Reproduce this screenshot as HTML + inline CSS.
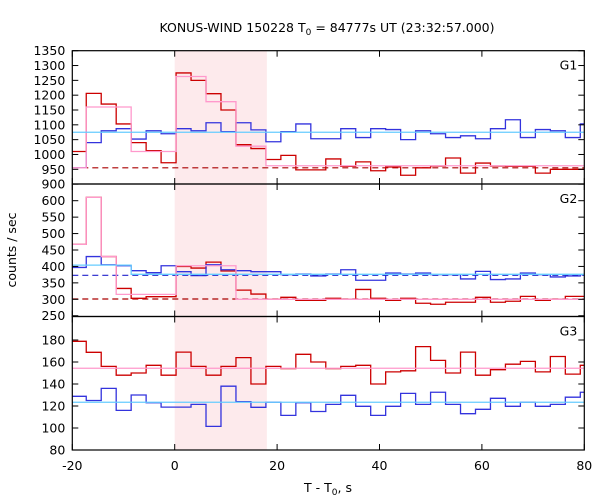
<!DOCTYPE html>
<html><head><meta charset="utf-8"><style>
body{margin:0;background:#fff;}
svg{display:block;font-family:"DejaVu Sans","Liberation Sans",sans-serif;}
</style></head><body>
<svg id="c" width="600" height="500" viewBox="0 0 600 500" xmlns="http://www.w3.org/2000/svg">
<text x="327" y="32" font-size="12.5" text-anchor="middle">KONUS-WIND 150228 T<tspan font-size="9" dy="3">0</tspan><tspan dy="-3"> = 84777s UT (23:32:57.000)</tspan></text>
<text x="328" y="492" font-size="12.5" text-anchor="middle">T - T<tspan font-size="9" dy="3">0</tspan><tspan dy="-3">, s</tspan></text>
<text transform="translate(16,250) rotate(-90)" font-size="12.5" text-anchor="middle">counts / sec</text>
<g id="g"></g>
</svg>
<script>
const binStart = -20.2;
const binWidth = 2.924;
const xTicks = [-20, 0, 20, 40, 60, 80];
const shadeRange = [0, 18];
const g1Red = [1010,1206,1170,1103,1040,1013,972,1275,1250,1205,1150,1033,1020,983,997,948,948,985,960,975,945,958,930,955,961,988,937,971,961,960,960,937,950,950,950];
const g1Blue = [955,1040,1080,1087,1052,1080,1070,1087,1080,1107,1077,1107,1083,1043,1077,1103,1053,1053,1087,1057,1087,1084,1050,1080,1070,1057,1063,1053,1087,1117,1057,1084,1080,1057,1103];
const g1Pink = [955,1160,1160,1160,1010,1010,1010,1263,1263,1178,1178,1028,1028,962,962,962,962,962,962,962,962,962,962,962,962,962,962,962,962,962,962,962,962,962,962];
const g1Cyan = 1075, g1RedBg = 955;
const g2Red = [467,610,430,333,303,308,308,400,395,413,386,328,316,300,306,297,297,303,300,330,303,297,303,288,285,291,291,306,291,294,309,297,300,309,309];
const g2Blue = [397,430,405,402,387,381,402,384,372,405,390,387,384,384,375,377,371,377,390,358,358,380,377,380,375,375,362,385,360,362,380,375,368,371,375];
const g2Pink = [467,610,430,315,315,315,315,402,402,402,402,300,300,300,300,300,300,300,300,300,300,300,300,300,300,300,300,300,300,300,300,300,300,300,300];
const g2Cyan = [404,404,404,404,376,376,376,376,376,376,376,376,376,376,376,376,376,376,376,376,376,376,376,376,376,376,376,376,376,376,376,376,376,376,376];
const g2BlueBg = 373, g2RedBg = 301;
const g3Red = [178.8,168.8,156,148,150,157,148,169,156,148,156,164,140,156,154,167,160,154,156,157,140,151,152,174,161.5,150,169,148,153,158,160.6,151,165,149,157];
const g3Blue = [128.8,125,136,116,130,123,119,119,121.5,101.5,138,124,118.8,123.4,111.5,123,115,121.5,129.7,119.7,111.5,119.7,131.5,121.5,132.5,121.5,113,117,127,119.7,123.4,119.7,121.5,128,132.5];
const g3Pink = 154.3, g3Cyan = 123.4;
const g1Ticks = [900,950,1000,1050,1100,1150,1200,1250,1300,1350];
const g2Ticks = [250,300,350,400,450,500,550,600];
const g3Ticks = [80,100,120,140,160,180];

const NS = "http://www.w3.org/2000/svg";
const root = document.getElementById('g');
const X0 = 72.3, X1 = 584.3;
const xs = t => X0 + (t + 20) / 100 * (X1 - X0);
function mk(tag, attrs, parent) {
  const e = document.createElementNS(NS, tag);
  for (const k in attrs) e.setAttribute(k, attrs[k]);
  (parent || root).appendChild(e);
  return e;
}
const panels = [
  {name:'g1', top:50.7, bot:184, v0:1350, p0:50.7, v1:950, p1:169.3, ticks:g1Ticks, label:'G1'},
  {name:'g2', top:184, bot:316.5, v0:600, p0:200.7, v1:300, p1:299.3, ticks:g2Ticks, label:'G2'},
  {name:'g3', top:316.5, bot:450, v0:180, p0:340, v1:80, p1:450, ticks:g3Ticks, label:'G3'}
];
panels.forEach(p => { p.y = v => p.p0 + (v - p.v0) * (p.p1 - p.p0) / (p.v1 - p.v0); });

let sh = mk('rect', {x:xs(shadeRange[0]), y:50.7, width:xs(shadeRange[1])-xs(shadeRange[0]), height:450-50.7, fill:'#fdeaec'});



function stepPath(p, vals, color, name, w) {
  let d = '';
  vals.forEach((v, i) => {
    const xa = Math.max(X0, xs(binStart + i * binWidth));
    const xb = Math.min(X1, xs(binStart + (i + 1) * binWidth));
    const y = p.y(v).toFixed(2);
    d += (i === 0 ? 'M' : 'L') + xa.toFixed(2) + ',' + y + 'L' + xb.toFixed(2) + ',' + y;
  });
  const e = mk('path', {d:d, fill:'none', stroke:color, 'stroke-width':w || 1.3});
  
  
}
function hline(p, v, color, name, dash) {
  const e = mk('line', {x1:X0, x2:X1, y1:p.y(v), y2:p.y(v), stroke:color, 'stroke-width':1.2});
  if (dash) e.setAttribute('stroke-dasharray', '6,4');
  
  
}
const [P1, P2, P3] = panels;
hline(P1, g1RedBg, '#aa0000', 'g1-background-dashed', true);
stepPath(P1, g1Blue, '#3333dd', 'g1-blue-series');
stepPath(P1, g1Red, '#cc0000', 'g1-red-series');
stepPath(P1, g1Pink, '#ff99cc', 'g1-pink-fit');
hline(P1, g1Cyan, '#66ccff', 'g1-cyan-fit');

hline(P2, g2RedBg, '#aa0000', 'g2-red-background-dashed', true);
stepPath(P2, g2Red, '#cc0000', 'g2-red-series');
stepPath(P2, g2Blue, '#3333dd', 'g2-blue-series');
hline(P2, g2BlueBg, '#2222cc', 'g2-blue-background-dashed', true);
stepPath(P2, g2Pink, '#ff99cc', 'g2-pink-fit');
stepPath(P2, g2Cyan, '#66ccff', 'g2-cyan-fit');

stepPath(P3, g3Red, '#cc0000', 'g3-red-series');
stepPath(P3, g3Blue, '#3333dd', 'g3-blue-series');
hline(P3, g3Pink, '#ff99cc', 'g3-pink-fit');
hline(P3, g3Cyan, '#66ccff', 'g3-cyan-fit');

panels.forEach(p => {
  const fr = mk('rect', {x:X0, y:p.top, width:X1-X0, height:p.bot-p.top, fill:'none', stroke:'#000', 'stroke-width':1.2});
  
  
  p.ticks.forEach(v => {
    const y = p.y(v);
    mk('line', {x1:X0, x2:X0+6, y1:y, y2:y, stroke:'#000', 'stroke-width':1});
    mk('line', {x1:X1-6, x2:X1, y1:y, y2:y, stroke:'#000', 'stroke-width':1});
    const t = mk('text', {x:X0-7, y:y+4.5, 'font-size':12.5, 'text-anchor':'end'});
    t.textContent = v;
    
    
  });
  xTicks.forEach(v => {
    const x = xs(v);
    mk('line', {x1:x, x2:x, y1:p.top, y2:p.top+6, stroke:'#000', 'stroke-width':1});
    mk('line', {x1:x, x2:x, y1:p.bot-6, y2:p.bot, stroke:'#000', 'stroke-width':1});
  });
  const lb = mk('text', {x:X1-7, y:p.top+19, 'font-size':12.5, 'text-anchor':'end'});
  lb.textContent = p.label;
  
  
});
xTicks.forEach(v => {
  const t = mk('text', {x:xs(v), y:470, 'font-size':12.5, 'text-anchor':'middle'});
  t.textContent = v;
  
  
});
</script>
</body></html>
